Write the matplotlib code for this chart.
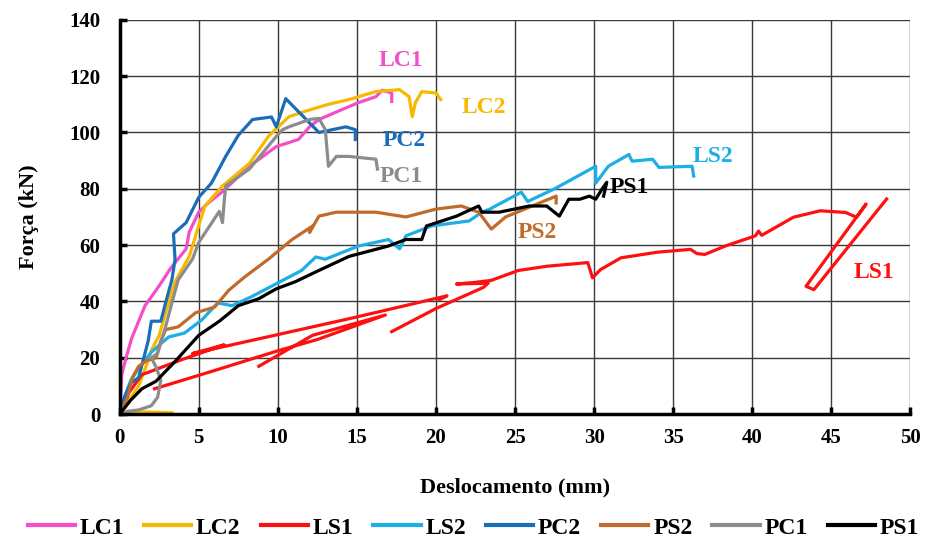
import numpy as np
import matplotlib
matplotlib.use("Agg")
import matplotlib.pyplot as plt

# load-displacement curves (mm, kN)
lc1_x = [0, 0.13, 0.4, 0.76, 1.6, 2.5, 3.2, 4.2, 4.4, 5.0, 5.6, 6.5, 8.2, 9.9, 11.3, 12.0, 12.6, 14.0, 15.1, 16.2, 16.6, 17.2, 17.2]
lc1_y = [0, 14, 20, 27, 38.5, 45.6, 51.6, 58.7, 64.7, 71.7, 75, 79, 88, 95, 97.5, 102, 104.6, 108, 110.6, 112.7, 115, 114, 111]

lc2_x = [3.3, 1.5, 0.5, 0, 0.6, 1.2, 1.8, 2.0, 2.5, 2.9, 3.5, 4.4, 5.0, 5.4, 6.5, 8.2, 9.4, 10.7, 12.0, 13.2, 14.5, 16.2, 17.7, 18.3, 18.5, 18.7, 19.1, 20.0, 20.3]
lc2_y = [0.5, 0.8, 0.6, 0, 5, 10, 19, 22.7, 28, 36, 47, 56, 67, 74, 81, 89, 98.6, 105.6, 108, 110, 111.7, 114.5, 115.2, 112.7, 105.6, 110.6, 114.5, 114, 111.7]

# LS1 has gaps in the record (nan = pen up)
ls1_x = [0, 0.5, 1.4, 4.0, 6.6, 4.6, 9.0, 14.6, 20.7, 20.2, np.nan,
         2.2, 6.0, 10.0, 12.5, 16.8, 12.2, 8.8, np.nan,
         17.2, 20.0, 23.0, 23.3, 21.3, 22.5, 23.5, 25.2, 27.0, 29.6, 29.9, 30.4, 31.7, 34.0, 36.1, 36.5, 37.0, 38.3,
         40.2, 40.4, 40.6, 42.6, 44.3, 45.9, 46.6, 47.2, 43.4, 43.9, 48.5]
ls1_y = [0, 7, 14, 19.5, 24.6, 21.5, 27, 34, 42, 40.6, np.nan,
         9, 15.5, 22.5, 26.5, 35.2, 28, 17, np.nan,
         29.3, 37.5, 45, 46.5, 46.2, 46.8, 47.5, 51, 52.5, 53.8, 48.4, 51.3, 55.5, 57.5, 58.5, 57, 56.7, 59.7,
         63.3, 65, 63.5, 69.9, 72.2, 71.6, 69.9, 74.6, 45.4, 44.2, 76.4]

ls2_x = [0, 0.3, 0.7, 1.3, 2.0, 2.6, 3.1, 4.1, 5.2, 6.2, 7.1, 8.3, 10.0, 11.5, 12.4, 13.0, 15.1, 17.0, 17.7, 18.1, 19.7, 22.1, 22.9, 23.4, 25.4, 25.8, 27.5, 30.1, 30.1, 30.9, 32.2, 32.4, 33.7, 34.1, 36.2, 36.3]
ls2_y = [0, 6, 12, 17, 22, 25, 27.4, 28.8, 33.5, 39.5, 38.5, 41.6, 46.6, 51, 55.8, 55, 59.7, 62, 58.7, 63.3, 66.8, 68.6, 71.7, 72.8, 78.8, 75.5, 80, 88, 82, 88, 92.2, 89.8, 90.5, 87.6, 88, 84.5]

pc2_x = [0, 0.3, 0.7, 1.2, 1.8, 2.0, 2.6, 2.9, 3.3, 3.5, 3.4, 4.2, 5.0, 5.8, 6.7, 7.5, 8.4, 9.6, 9.9, 10.5, 12.6, 14.3, 14.9, 14.9]
pc2_y = [0, 6, 11, 13, 26, 33, 33, 39.5, 47.7, 55, 64, 68, 77, 82, 91.5, 99, 104.6, 105.5, 102, 112, 100, 102, 101, 97.5]

ps2_x = [0, 0.5, 0.8, 1.2, 1.7, 2.3, 2.6, 2.9, 3.7, 4.8, 6.0, 6.9, 7.9, 9.4, 10.9, 12.2, 12.0, 12.6, 13.7, 16.2, 18.1, 20.0, 21.6, 22.7, 23.5, 24.4, 27.6, 27.6]
ps2_y = [0, 6, 13, 17, 19, 20, 26, 30, 31, 36, 38, 44, 48.7, 55, 62, 66.8, 64.5, 70.3, 71.7, 71.7, 70, 72.8, 73.9, 71.7, 65.7, 70, 77.4, 75]

pc1_x = [0, 0.5, 1.2, 2.0, 2.4, 2.6, 2.3, 2.0, 2.4, 2.9, 3.3, 3.7, 4.6, 5.0, 6.3, 6.5, 6.6, 6.7, 8.2, 9.9, 10.3, 10.7, 12.0, 12.6, 13.0, 13.2, 13.7, 14.5, 16.2, 16.3]
pc1_y = [0, 1, 1.5, 3, 6, 12, 16.7, 20, 21.6, 31, 39.5, 47.7, 55, 61, 72, 68, 75, 81, 87, 98.6, 101, 102, 104.6, 105, 101, 88, 91.5, 91.5, 90.5, 87]

ps1_x = [0, 0.7, 1.4, 2.3, 3.5, 5.0, 6.3, 7.5, 8.8, 9.9, 11.1, 12.4, 14.5, 17.0, 18.1, 19.1, 19.4, 21.3, 22.7, 22.9, 24.0, 25.9, 27.0, 27.8, 28.4, 29.1, 29.7, 30.1, 30.5, 30.8, 30.6]
ps1_y = [0, 5, 9, 11.7, 18.7, 28, 33, 38.5, 41, 44.5, 47, 50.5, 56, 59.7, 62, 62, 66.8, 70.3, 73.9, 71.7, 71.7, 73.9, 73.9, 70.3, 76.3, 76.3, 77.4, 76.3, 79.9, 82.3, 77.4]

# name, x, y, colour, label position
series = [
    ("LC1", lc1_x, lc1_y, "#F24FC8", (17.8, 125.5)),
    ("LC2", lc2_x, lc2_y, "#F7B900", (23.0, 109.0)),
    ("LS1", ls1_x, ls1_y, "#FF1010", (47.7, 50.3)),
    ("LS2", ls2_x, ls2_y, "#1EAEE6", (37.5, 91.5)),
    ("PC2", pc2_x, pc2_y, "#1A6DB8", (18.0, 97.0)),
    ("PS2", ps2_x, ps2_y, "#C06A2B", (26.4, 64.5)),
    ("PC1", pc1_x, pc1_y, "#8C8C8C", (17.8, 84.5)),
    ("PS1", ps1_x, ps1_y, "#000000", (32.2, 80.5)),
]

plt.rcParams["font.family"] = ["Liberation Serif", "DejaVu Serif"]

fig = plt.figure(figsize=(9.28, 5.5), dpi=100)
ax = fig.add_axes([0.129, 0.247, 0.852, 0.717])

for name, xs, ys, col, pos in series:
    ax.plot(xs, ys, color=col, lw=2.3, label=name, solid_joinstyle="round")
    ax.text(pos[0], pos[1], name, color=col, fontsize=17, fontweight="bold",
            ha="center", va="center")

ax.set_xlim(0, 50)
ax.set_ylim(0, 140)
ax.set_xticks(np.arange(0, 51, 5))
ax.set_yticks(np.arange(0, 141, 20))
ax.grid(True, color="#3a3a3a", lw=1.0)
ax.set_axisbelow(True)
for s in ["top", "right"]:
    ax.spines[s].set_visible(False)
for s in ["left", "bottom"]:
    ax.spines[s].set_linewidth(2.5)
ax.tick_params(direction="in", length=5, width=2.5, labelsize=15)
ax.tick_params(axis="x", pad=10)
ax.tick_params(axis="y", pad=14)
for lbl in ax.get_xticklabels() + ax.get_yticklabels():
    lbl.set_fontweight("bold")
ax.set_xlabel("Deslocamento (mm)", fontsize=16, fontweight="bold", labelpad=21)
ax.set_ylabel("Força (kN)", fontsize=16, fontweight="bold", labelpad=22)

leg = fig.legend(loc="lower center", bbox_to_anchor=(0.51, -0.018), ncol=8, frameon=False,
                 prop={"size": 17, "weight": "bold"}, handlelength=2.0,
                 handletextpad=0.2, columnspacing=0.85)
for h in leg.get_lines():
    h.set_linewidth(3)

fig.savefig("out.png", dpi=100)
